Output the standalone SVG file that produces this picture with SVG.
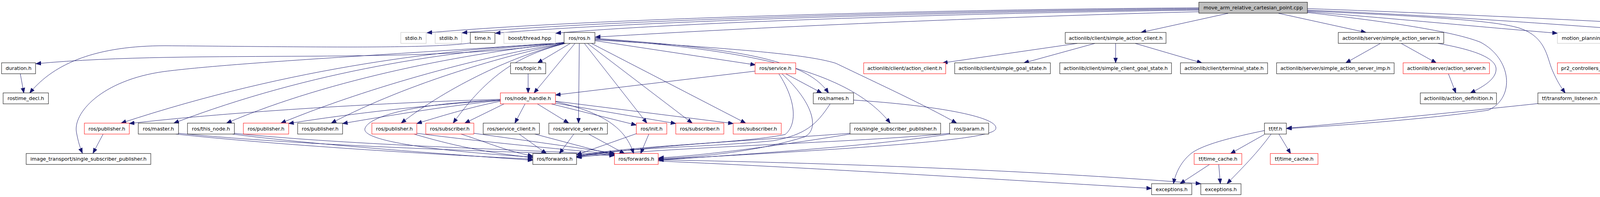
<svg xmlns="http://www.w3.org/2000/svg" width="5076" height="504" viewBox="0 0 5076 504">
<defs>
<style>
.b{fill:#fff;stroke:#000;stroke-width:1}
.g{fill:#fff;stroke:#bfbfbf;stroke-width:1}
.r{fill:#fff;stroke:#ff0000;stroke-width:1}
.root{fill:#bfbfbf;stroke:#000;stroke-width:1}
text{font-family:"DejaVu Sans","Liberation Sans",sans-serif;font-size:12.8px;text-anchor:middle;fill:#000}
#edges path{fill:none;stroke:#191970;stroke-width:1;marker-end:url(#a)}
</style>
<marker id="a" markerWidth="14" markerHeight="11" refX="13" refY="5" orient="auto" markerUnits="userSpaceOnUse"><path d="M0,0 L13,5 L0,10 z" fill="#191970" stroke="#191970"/></marker>
</defs>
<rect width="5076" height="504" fill="#fff"/>
<g id="edges">
<path d="M3069,20 C2400,24 1500,48 1093,84"/>
<path d="M3069,22 C2400,27 1550,52 1183,84"/>
<path d="M3069,24 C2400,30 1600,56 1268,85"/>
<path d="M3069,26 C2400,34 1700,60 1423,85"/>
<path d="M3069,30 C2600,42 2000,66 1524,95"/>
<path d="M3144,34 L2921,83"/>
<path d="M3273,34 L3497,83"/>
<path d="M3347,30 C3600,50 3800,70 3987,85"/>
<path d="M3347,26 C3700,40 4000,64 4288,84"/>
<path d="M3347,22 C3800,38 4300,64 4614,84"/>
<path d="M3347,28 C3600,40 3820,50 3890,72 C3960,95 3960,150 3975,182 C3985,205 3995,222 4007,238"/>
<path d="M3347,32 C3550,55 3720,80 3790,108 C3870,150 3880,250 3810,282 C3650,305 3420,322 3294,329"/>
<path d="M1204,110 C1100,125 800,120 423,117 C250,117 140,160 76,238"/>
<path d="M52,189 L61,238"/>
<path d="M1460,111 L1376,161"/>
<path d="M1472,111 L1367,238"/>
<path d="M1483,111 L1481,315"/>
<path d="M1496,111 L1656,315"/>
<path d="M1504,111 L1772,315"/>
<path d="M1514,111 L1909,315"/>
<path d="M1523,104 L1934,166"/>
<path d="M1523,98 C1850,122 2060,145 2121,238"/>
<path d="M1523,100 C1950,128 2180,190 2279,315"/>
<path d="M1523,102 C1900,125 2070,140 2140,162 C2250,215 2370,270 2449,315"/>
<path d="M1444,108 C1100,168 500,125 92,163"/>
<path d="M1444,109 C1000,140 600,160 420,183 C260,205 185,290 196,340 C200,362 205,378 211,392"/>
<path d="M1444,110 C1150,125 750,170 310,315"/>
<path d="M1444,110 C1150,130 800,180 445,315"/>
<path d="M1444,110 C1200,135 850,200 580,315"/>
<path d="M1444,111 C1250,140 950,220 719,315"/>
<path d="M1445,111 C1300,140 1050,210 848,315"/>
<path d="M1446,111 C1320,140 1150,220 1027,315"/>
<path d="M1448,111 C1330,140 1250,190 1160,315"/>
<path d="M1344,266 L1318,315"/>
<path d="M1376,266 L1456,315"/>
<path d="M1412,266 L1629,320"/>
<path d="M1422,260 C1530,285 1600,320 1622,393"/>
<path d="M1422,264 L1730,316"/>
<path d="M1422,259 L1877,316"/>
<path d="M1281,254 C1000,262 600,285 331,316"/>
<path d="M1281,256 C1100,268 900,290 739,316"/>
<path d="M1281,257 C1150,270 1000,295 877,316"/>
<path d="M1281,259 C1200,275 1120,300 1067,316"/>
<path d="M1290,266 L1190,315"/>
<path d="M1281,256 C1050,265 940,300 934,330 C930,360 1100,385 1364,402"/>
<path d="M1352,189 L1352,238"/>
<path d="M1933,182 L1422,243"/>
<path d="M2012,189 L2104,238"/>
<path d="M1994,189 C2040,260 2040,320 2010,344 C1900,368 1600,372 1476,400"/>
<path d="M2002,189 C2080,260 2100,330 2060,350 C1950,385 1800,402 1686,406"/>
<path d="M2125,266 C2090,320 2060,345 1980,360 C1800,378 1600,376 1476,401"/>
<path d="M2185,256 C2400,270 2560,300 2549,330 C2540,355 2300,375 1686,408"/>
<path d="M2176,341 C1950,358 1650,372 1476,402"/>
<path d="M2176,343 C2000,372 1800,398 1686,404"/>
<path d="M2431,341 C2200,365 1700,376 1476,403"/>
<path d="M2431,343 C2200,378 1850,398 1686,410"/>
<path d="M450,343 C700,370 1100,395 1364,407"/>
<path d="M457,341 C800,375 1300,388 1573,398"/>
<path d="M595,343 C800,370 1150,395 1364,410"/>
<path d="M600,341 C900,372 1350,383 1573,396"/>
<path d="M1060,343 C1150,370 1250,392 1364,403"/>
<path d="M1067,341 C1250,365 1450,383 1573,394"/>
<path d="M1180,343 C1250,365 1300,388 1364,399"/>
<path d="M1213,341 C1350,360 1480,378 1573,392"/>
<path d="M1329,343 L1399,393"/>
<path d="M1369,343 L1573,397"/>
<path d="M1469,343 L1432,393"/>
<path d="M1507,343 L1599,393"/>
<path d="M1629,342 L1476,396"/>
<path d="M1661,343 L1640,393"/>
<path d="M264,343 L238,392"/>
<path d="M1685,412 C2100,430 2600,462 2948,482"/>
<path d="M1685,409 C2200,418 2700,440 3074,470"/>
<path d="M3237,334 C3150,352 3080,370 3050,392 C3025,412 3010,440 3004,470"/>
<path d="M3237,344 L3150,393"/>
<path d="M3254,343 C3220,390 3180,430 3141,470"/>
<path d="M3274,343 L3304,393"/>
<path d="M3096,421 L3021,470"/>
<path d="M3120,421 L3124,470"/>
<path d="M3937,265 C3700,290 3450,315 3294,328"/>
<path d="M2758,111 L2413,161"/>
<path d="M2803,111 L2621,161"/>
<path d="M2856,111 L2856,161"/>
<path d="M2906,111 L3077,161"/>
<path d="M3534,111 L3445,161"/>
<path d="M3587,111 L3677,161"/>
<path d="M3681,111 C3760,125 3830,145 3830,177 C3830,205 3790,225 3764,238"/>
<path d="M3708,189 L3727,238"/>
<path d="M4390,111 L4229,161"/>
<path d="M4458,111 L4522,161"/>
<path d="M4523,111 L4816,161"/>
</g>
<g id="n_root"><rect class="root" x="3069" y="5.7" width="278" height="28"/><text x="3208" y="24.4">move_arm_relative_cartesian_point.cpp</text></g>
<g id="n_stdio"><rect class="g" x="1026" y="83" width="65" height="28"/><text x="1058.5" y="101.7">stdio.h</text></g>
<g id="n_stdlib"><rect class="g" x="1114" y="83" width="68" height="28"/><text x="1148" y="101.7">stdlib.h</text></g>
<g id="n_time"><rect class="b" x="1204" y="83" width="63" height="28"/><text x="1235.5" y="101.7">time.h</text></g>
<g id="n_boost"><rect class="g" x="1290" y="83" width="132" height="28"/><text x="1356" y="101.7">boost/thread.hpp</text></g>
<g id="n_ros"><rect class="b" x="1444" y="83" width="79" height="28"/><text x="1483.5" y="101.7">ros/ros.h</text></g>
<g id="n_sac"><rect class="b" x="2727" y="83" width="258" height="28"/><text x="2856" y="101.7">actionlib/client/simple_action_client.h</text></g>
<g id="n_sas"><rect class="b" x="3426" y="83" width="270" height="28"/><text x="3561" y="101.7">actionlib/server/simple_action_server.h</text></g>
<g id="n_gmp"><rect class="g" x="3987" y="83" width="279" height="28"/><text x="4126.5" y="101.7">motion_planning_msgs/GetMotionPlan.h</text></g>
<g id="n_jta"><rect class="b" x="4288" y="83" width="303" height="28"/><text x="4439.5" y="101.7">pr2_controllers_msgs/JointTrajectoryAction.h</text></g>
<g id="n_cot"><rect class="g" x="4614" y="83" width="419" height="28"/><text x="4823.5" y="101.7">cotesys_ros_grasping/MoveArmRelativeCartesianPointAction.h</text></g>
<g id="n_duration"><rect class="b" x="4" y="160.7" width="87" height="28"/><text x="47.5" y="179.4">duration.h</text></g>
<g id="n_topic"><rect class="b" x="1307" y="160.7" width="90" height="28"/><text x="1352" y="179.4">ros/topic.h</text></g>
<g id="n_service"><rect class="r" x="1933" y="160.7" width="104" height="28"/><text x="1985" y="179.4">ros/service.h</text></g>
<g id="n_ac"><rect class="r" x="2211" y="160.7" width="210" height="28"/><text x="2316" y="179.4">actionlib/client/action_client.h</text></g>
<g id="n_sgs"><rect class="b" x="2444" y="160.7" width="245" height="28"/><text x="2566.5" y="179.4">actionlib/client/simple_goal_state.h</text></g>
<g id="n_scgs"><rect class="b" x="2713" y="160.7" width="286" height="28"/><text x="2856" y="179.4">actionlib/client/simple_client_goal_state.h</text></g>
<g id="n_ts"><rect class="b" x="3022" y="160.7" width="223" height="28"/><text x="3133.5" y="179.4">actionlib/client/terminal_state.h</text></g>
<g id="n_imp"><rect class="b" x="3268" y="160.7" width="301" height="28"/><text x="3418.5" y="179.4">actionlib/server/simple_action_server_imp.h</text></g>
<g id="n_as"><rect class="r" x="3592" y="160.7" width="221" height="28"/><text x="3702.5" y="179.4">actionlib/server/action_server.h</text></g>
<g id="n_fb"><rect class="r" x="3987" y="160.7" width="364" height="28"/><text x="4169" y="179.4">pr2_controllers_msgs/JointTrajectoryActionFeedback.h</text></g>
<g id="n_goal"><rect class="r" x="4374" y="160.7" width="332" height="28"/><text x="4540" y="179.4">pr2_controllers_msgs/JointTrajectoryActionGoal.h</text></g>
<g id="n_res"><rect class="r" x="4729" y="160.7" width="342" height="28"/><text x="4900" y="179.4">pr2_controllers_msgs/JointTrajectoryActionResult.h</text></g>
<g id="n_rostime"><rect class="b" x="8" y="237.7" width="116" height="28"/><text x="66" y="256.4">rostime_decl.h</text></g>
<g id="n_nh"><rect class="r" x="1281" y="237.7" width="141" height="28"/><text x="1351.5" y="256.4">ros/node_handle.h</text></g>
<g id="n_names"><rect class="b" x="2082" y="237.7" width="103" height="28"/><text x="2133.5" y="256.4">ros/names.h</text></g>
<g id="n_ad"><rect class="b" x="3636" y="237.7" width="195" height="28"/><text x="3733.5" y="256.4">actionlib/action_definition.h</text></g>
<g id="n_tfl"><rect class="b" x="3937" y="237.7" width="163" height="28"/><text x="4018.5" y="256.4">tf/transform_listener.h</text></g>
<g id="n_pub1"><rect class="r" x="216" y="315" width="115" height="28"/><text x="273.5" y="333.7">ros/publisher.h</text></g>
<g id="n_master"><rect class="b" x="354" y="315" width="103" height="28"/><text x="405.5" y="333.7">ros/master.h</text></g>
<g id="n_thisnode"><rect class="b" x="480" y="315" width="120" height="28"/><text x="540" y="333.7">ros/this_node.h</text></g>
<g id="n_pub2"><rect class="r" x="623" y="315" width="116" height="28"/><text x="681" y="333.7">ros/publisher.h</text></g>
<g id="n_pub3"><rect class="b" x="762" y="315" width="115" height="28"/><text x="819.5" y="333.7">ros/publisher.h</text></g>
<g id="n_pub4"><rect class="r" x="952" y="315" width="115" height="28"/><text x="1009.5" y="333.7">ros/publisher.h</text></g>
<g id="n_sub0"><rect class="r" x="1090" y="315" width="123" height="28"/><text x="1151.5" y="333.7">ros/subscriber.h</text></g>
<g id="n_sc"><rect class="b" x="1237" y="315" width="144" height="28"/><text x="1309" y="333.7">ros/service_client.h</text></g>
<g id="n_ss"><rect class="b" x="1405" y="315" width="150" height="28"/><text x="1480" y="333.7">ros/service_server.h</text></g>
<g id="n_init"><rect class="r" x="1629" y="315" width="78" height="28"/><text x="1668" y="333.7">ros/init.h</text></g>
<g id="n_sub1"><rect class="r" x="1730" y="315" width="123" height="28"/><text x="1791.5" y="333.7">ros/subscriber.h</text></g>
<g id="n_sub2"><rect class="r" x="1877" y="315" width="123" height="28"/><text x="1938.5" y="333.7">ros/subscriber.h</text></g>
<g id="n_ssp"><rect class="b" x="2176" y="315" width="232" height="28"/><text x="2292" y="333.7">ros/single_subscriber_publisher.h</text></g>
<g id="n_param"><rect class="b" x="2431" y="315" width="100" height="28"/><text x="2481" y="333.7">ros/param.h</text></g>
<g id="n_tf"><rect class="b" x="3237" y="315" width="56" height="28"/><text x="3265" y="333.7">tf/tf.h</text></g>
<g id="n_it"><rect class="b" x="67" y="392.7" width="319" height="28"/><text x="226.5" y="411.4">image_transport/single_subscriber_publisher.h</text></g>
<g id="n_fwdb"><rect class="b" x="1364" y="392.7" width="112" height="28"/><text x="1420" y="411.4">ros/forwards.h</text></g>
<g id="n_fwdr"><rect class="r" x="1573" y="392.7" width="112" height="28"/><text x="1629" y="411.4">ros/forwards.h</text></g>
<g id="n_tc1"><rect class="r" x="3057" y="392.7" width="122" height="28"/><text x="3118" y="411.4">tf/time_cache.h</text></g>
<g id="n_tc2"><rect class="r" x="3252" y="392.7" width="122" height="28"/><text x="3313" y="411.4">tf/time_cache.h</text></g>
<g id="n_exc1"><rect class="b" x="2948" y="470" width="103" height="28"/><text x="2999.5" y="488.7">exceptions.h</text></g>
<g id="n_exc2"><rect class="b" x="3074" y="470" width="103" height="28"/><text x="3125.5" y="488.7">exceptions.h</text></g>
</svg>
